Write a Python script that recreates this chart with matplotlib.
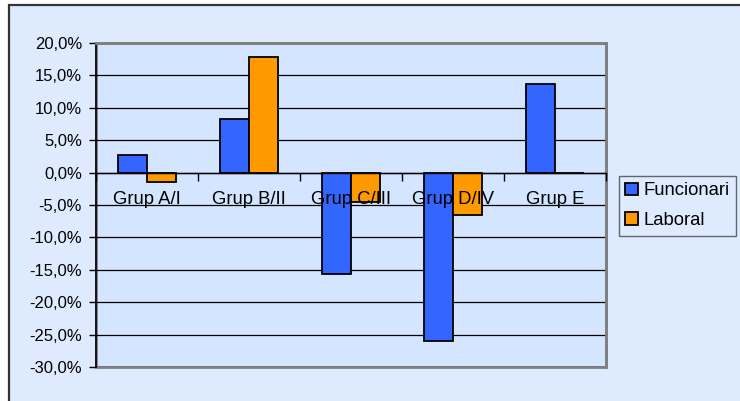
import matplotlib
matplotlib.use("Agg")
import matplotlib.pyplot as plt
from matplotlib.patches import Rectangle
from matplotlib.ticker import FuncFormatter, FixedLocator
import numpy as np

categories = ["Grup A/I", "Grup B/II", "Grup C/III", "Grup D/IV", "Grup E"]
funcionari = [2.7, 8.3, -15.6, -26.0, 13.7]
laboral = [-1.4, 17.8, -4.6, -6.6, 0.0]
series_names = ["Funcionari", "Laboral"]
yticks = [20, 15, 10, 5, 0, -5, -10, -15, -20, -25, -30]

plt.rcParams['font.family'] = ['Liberation Sans', 'DejaVu Sans']

W, H = 740, 401
fig = plt.figure(figsize=(W / 100, H / 100), dpi=100)
fig.patch.set_facecolor('white')

# chart area background with border at top/left
fig.patches.append(Rectangle((9 / W, -0.1), 1.2, (H - 5) / H + 0.1, transform=fig.transFigure,
                             facecolor='#deebff', edgecolor='#333333', linewidth=1.6, zorder=-10))

ax = fig.add_axes([96 / W, (H - 367) / H, (606 - 96) / W, (367 - 43) / H])
ax.set_facecolor('#d4e5ff')

x = np.arange(len(categories))
w = 0.285
ax.bar(x - w / 2, funcionari, width=w, color='#3366ff', edgecolor='black', linewidth=1.3,
       label=series_names[0], zorder=3)
ax.bar(x + w / 2, laboral, width=w, color='#ff9900', edgecolor='black', linewidth=1.3,
       label=series_names[1], zorder=3)

ax.set_xlim(-0.5, len(categories) - 0.5)
ax.set_ylim(-30, 20)

ax.yaxis.set_major_locator(FixedLocator(yticks))
ax.yaxis.set_major_formatter(FuncFormatter(lambda v, p: ("%.1f%%" % v).replace('.', ',')))
ax.grid(axis='y', color='black', linewidth=0.9, zorder=1)
ax.tick_params(axis='y', direction='out', length=5, width=1, pad=5, labelsize=12, colors='black')

# x axis at zero
ax.spines['bottom'].set_position(('data', 0))
ax.spines['bottom'].set_color('black')
ax.spines['bottom'].set_linewidth(1)
ax.spines['bottom'].set_zorder(4)
ax.set_xticks(np.arange(len(categories) + 1) - 0.5)
ax.set_xticklabels([])
ax.set_xticks(x, minor=True)
ax.set_xticklabels(categories, minor=True)
ax.tick_params(axis='x', which='major', direction='out', length=6, width=1, colors='black')
ax.tick_params(axis='x', which='minor', length=0, pad=13, labelsize=13.3)
ax.xaxis.set_zorder(10)

ax.spines['left'].set_color('black')
ax.spines['left'].set_linewidth(1.2)
for s in ['top', 'right']:
    ax.spines[s].set_color('#808080')
    ax.spines[s].set_linewidth(2)

# bottom plot border (gray) since bottom spine is moved
ax.add_patch(Rectangle((0, 0), 1, 1, transform=ax.transAxes, fill=False,
                       edgecolor='#808080', linewidth=2, zorder=0.5, clip_on=False))

leg = fig.legend(loc='upper left', bbox_to_anchor=(619 / W, (H - 176) / H),
                 fontsize=13.3, frameon=True, fancybox=False, handlelength=0.7, handleheight=0.7,
                 handletextpad=0.25, borderpad=0.35, labelspacing=0.7, borderaxespad=0)
leg.get_frame().set_edgecolor('#444444')
leg.get_frame().set_facecolor('#deebff')
leg.get_frame().set_linewidth(1)

fig.savefig('out.png', dpi=100)
